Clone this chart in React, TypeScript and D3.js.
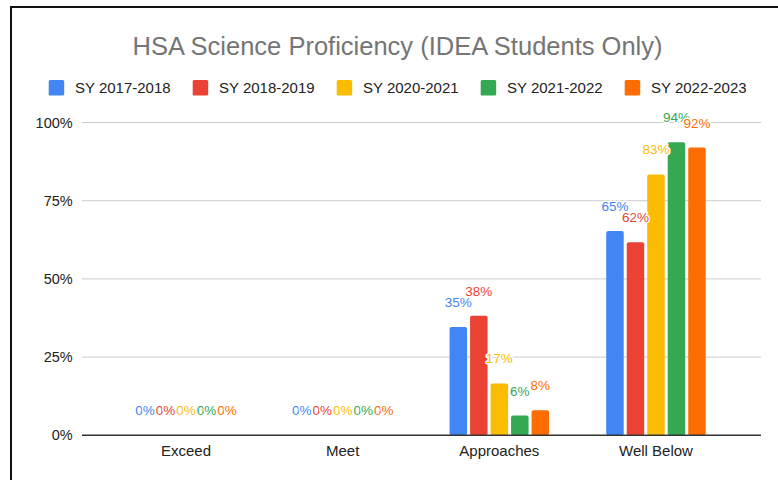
import React from "react";
import * as d3 from "d3";

const categories = ["Exceed", "Meet", "Approaches", "Well Below"];
const seriesNames = ["SY 2017-2018", "SY 2018-2019", "SY 2020-2021", "SY 2021-2022", "SY 2022-2023"];
const seriesColors = ["#4285F4", "#EA4335", "#FBBC04", "#34A853", "#FF6D01"];
// values per series, in category order
const sy2017 = [0, 0, 34.6, 65.3];
const sy2018 = [0, 0, 38.2, 61.7];
const sy2020 = [0, 0, 16.6, 83.4];
const sy2021 = [0, 0, 6.3, 93.7];
const sy2022 = [0, 0, 8.0, 92.0];
const seriesValues = [sy2017, sy2018, sy2020, sy2021, sy2022];
const yTicks = [0, 25, 50, 75, 100];
const title = "HSA Science Proficiency (IDEA Students Only)";

const W = 778;
const H = 480;
const FONT = "Arial, 'Liberation Sans', sans-serif";

export default function App() {
  const y = d3.scaleLinear().domain([0, 100]).range([435.3, 122.5]);
  const x0 = d3.scaleBand<string>().domain(categories).range([107.7, 734.3]).padding(0);
  const x1 = d3
    .scaleBand<string>()
    .domain(seriesNames)
    .range([-51.25, 51.25])
    .paddingInner(0.146)
    .paddingOuter(0.073);
  const gridX0 = 82;
  const gridX1 = 761;
  const legendStart = 48.7;
  const legendStep = 144;

  return (
    <div style={{ position: "absolute", left: 0, top: 0 }}>
      <svg width={W} height={H} style={{ display: "block", fontFamily: FONT }}>
        <rect x={0} y={0} width={W} height={H} fill="#fff" />
        {/* frame */}
        <line x1={11} x2={W} y1={7} y2={7} stroke="#111" strokeWidth={2} />
        <line x1={11} x2={11} y1={6} y2={H} stroke="#111" strokeWidth={2} />

        <text x={397.5} y={55} textAnchor="middle" fontSize={25.5} fill="#757575">
          {title}
        </text>

        {seriesNames.map((s, i) => (
          <g key={s} transform={`translate(${legendStart + i * legendStep},0)`}>
            <rect x={0} y={80} width={15.5} height={15.5} rx={1.5} fill={seriesColors[i]} />
            <text x={26.3} y={93} fontSize={15} fill="#222">
              {s}
            </text>
          </g>
        ))}

        {yTicks.map((t) => (
          <g key={t}>
            {t !== 0 && (
              <line x1={gridX0} x2={gridX1} y1={y(t)} y2={y(t)} stroke="#cccccc" strokeWidth={1} />
            )}
            <text x={72.7} y={y(t) + 5} textAnchor="end" fontSize={14.5} fill="#222">
              {t}%
            </text>
          </g>
        ))}

        {categories.map((c, ci) => (
          <g key={c} transform={`translate(${(x0(c) as number) + x0.bandwidth() / 2},0)`}>
            {seriesNames.map((s, si) => {
              const v = seriesValues[si][ci];
              const bx = x1(s) as number;
              const top = y(v);
              const h = y(0) - top;
              return h > 0 ? (
                <rect key={s} x={bx} y={top} width={x1.bandwidth()} height={h} rx={2} fill={seriesColors[si]} />
              ) : null;
            })}
          </g>
        ))}

        <line x1={gridX0} x2={gridX1} y1={y(0)} y2={y(0)} stroke="#333" strokeWidth={1.5} />

        {categories.map((c, ci) => (
          <g key={c} transform={`translate(${(x0(c) as number) + x0.bandwidth() / 2},0)`}>
            {seriesNames.map((s, si) => {
              const v = seriesValues[si][ci];
              const cx = (x1(s) as number) + x1.bandwidth() / 2;
              return (
                <text
                  key={s}
                  x={cx}
                  y={y(v) - 20}
                  textAnchor="middle"
                  fontSize={13.5}
                  fill={seriesColors[si]}
                  stroke="#fff"
                  strokeWidth={3}
                  strokeLinejoin="round"
                  style={{ paintOrder: "stroke" }}
                >
                  {Math.round(v)}%
                </text>
              );
            })}
            <text x={0} y={456} textAnchor="middle" fontSize={15} fill="#222">
              {c}
            </text>
          </g>
        ))}
      </svg>
    </div>
  );
}
